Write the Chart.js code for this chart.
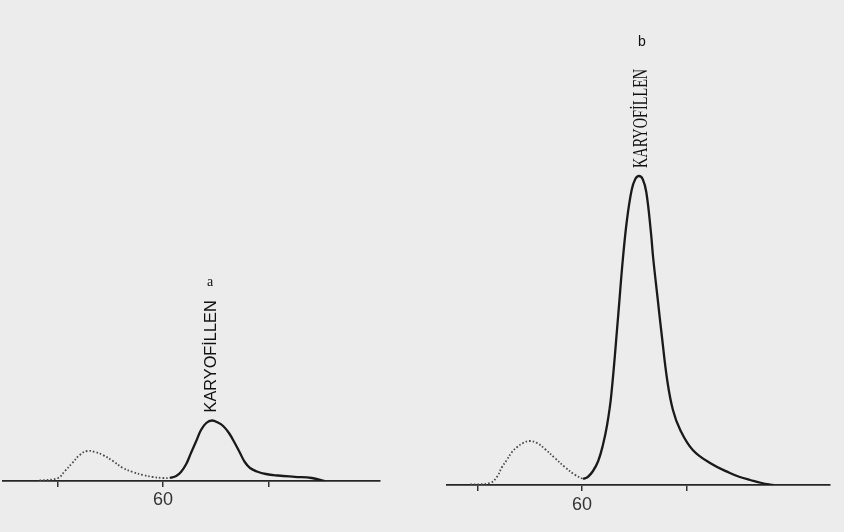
<!DOCTYPE html>
<html><head><meta charset="utf-8">
<script src="https://cdn.jsdelivr.net/npm/chart.js@4"></script>
<style>
html,body{margin:0;padding:0;background:#ececec;}
#wrap{position:relative;width:844px;height:532px;overflow:hidden;background:#ececec;}
.pane{position:absolute;top:0;height:532px;}
</style></head><body>
<div id="wrap">
<div class="pane" style="left:0;width:420px"><canvas id="ca" width="420" height="532"></canvas></div>
<div class="pane" style="left:430px;width:414px"><canvas id="cb" width="414" height="532"></canvas></div>
</div>
<script>
// ---- data (retention time in min, detector signal in chart mm) ----
const tickValues = [50, 60, 70];
const tickLabels = ['', '60', ''];

// Chromatogram a
const timeA_pre   = [48.3, 50.05, 50.7, 51.4, 52.1, 52.8, 53.55, 54.3, 55.25, 56.2, 57.15, 58.1, 59.05, 60.0, 60.65];
const signalA_pre = [0.5, 3, 10, 18, 26, 30, 29, 26, 20, 13, 9, 6, 4, 3, 3];
const timeA_main   = [60.65, 61.25, 61.7, 62.2, 62.65, 63.15, 63.6, 64.1, 64.65, 65.2, 65.7, 66.25, 66.8, 67.3, 67.75, 68.25, 68.9, 69.75, 70.9, 72.5, 74.1, 75.35];
const signalA_main = [3, 5, 9, 17, 28, 40, 51, 58, 60.5, 58.5, 55, 48, 38, 28, 19, 13, 9.5, 7, 5.5, 4.2, 3, 0];

// Chromatogram b
const timeB_pre   = [49.3, 51.2, 51.85, 52.35, 52.8, 53.3, 53.8, 54.35, 55.0, 55.7, 56.45, 57.4, 58.35, 59.35, 60.1];
const signalB_pre = [0.5, 2, 8, 18, 25, 33, 38, 42, 44, 42, 36, 27, 18, 10, 6];
const timeB_main   = [60.1, 60.55, 61.05, 61.55, 62.0, 62.4, 62.8, 63.45, 63.9, 64.3, 64.75, 65.1, 65.45, 65.8, 66.15, 66.6, 66.8, 67.2, 67.65, 68.15, 68.7, 69.4, 70.6, 72.25, 74.15, 75.1, 76.1, 77.2, 78.3];
const signalB_main = [6, 8, 14, 24, 40, 60, 90, 168, 225, 265, 295, 306, 309, 306, 293, 252, 228, 190, 148, 105, 75, 55, 35, 22, 12, 8, 5, 2, 0];

const peakName = 'KARYOFİLLEN';

function pts(t, s){ return t.map((x,i)=>({x:x, y:s[i]})); }

const peakLabel = {
  id:'peakLabel',
  afterDatasetsDraw(chart, args, o){
    const ctx = chart.ctx, xs = chart.scales.x, ys = chart.scales.y;
    const px = xs.getPixelForValue(o.time) + o.dx;
    const py = ys.getPixelForValue(o.signal);
    ctx.save();
    ctx.fillStyle = '#111';
    ctx.translate(px, py - o.gap);
    ctx.rotate(-Math.PI/2);
    ctx.scale(o.squeeze, 1);
    ctx.font = o.font;
    ctx.textAlign = 'left';
    ctx.textBaseline = 'middle';
    ctx.fillText(o.text, 0, 0);
    ctx.restore();
    ctx.save();
    ctx.fillStyle = '#111';
    ctx.font = o.letterFont;
    ctx.textAlign = 'center';
    ctx.textBaseline = 'middle';
    ctx.fillText(o.letter, px + o.letterDx, py - o.letterGap);
    ctx.restore();
  }
};

function makeChart(id, pre, main, xmin, xmax, ymax, padL, padR, axisH, tickPad, label){
  return new Chart(document.getElementById(id), {
    type:'line',
    data:{datasets:[
      {data:pre, borderColor:'#4a4a4a', borderWidth:1.8, borderDash:[1.6,2.0], pointRadius:0, tension:0.4, fill:false},
      {data:main, borderColor:'#1a1a1a', borderWidth:2.3, pointRadius:0, tension:0.4, fill:false}
    ]},
    options:{
      responsive:false, animation:false, events:[],
      layout:{padding:{left:padL, right:padR, top:0, bottom:0}},
      plugins:{legend:{display:false}, tooltip:{enabled:false}, peakLabel:label},
      scales:{
        x:{type:'linear', min:xmin, max:xmax,
           afterBuildTicks:(s)=>{ s.ticks = tickValues.map(v=>({value:v})); },
           afterFit:(s)=>{ s.height = axisH; },
           ticks:{callback:(v)=>{ const i = tickValues.indexOf(v); return i>=0 ? tickLabels[i] : ''; },
                  font:{family:'Liberation Sans, Arial', size:18}, color:'#333', padding:tickPad, maxRotation:0, autoSkip:false},
           grid:{drawOnChartArea:false, drawTicks:true, tickLength:6, color:'#333', lineWidth:1.5},
           border:{display:true, color:'#262626', width:1.8}},
        y:{display:false, min:0, max:ymax}
      }
    },
    plugins:[peakLabel]
  });
}

makeChart('ca', pts(timeA_pre, signalA_pre), pts(timeA_main, signalA_main), 44.83, 80.57, 481, 3, 40, 51, 2,
  {time:64.65, signal:60.5, dx:0, gap:8, text:peakName, squeeze:1.02, font:'16px "Liberation Sans", Arial',
   letter:'a', letterFont:'14px "Liberation Serif", serif', letterDx:-2, letterGap:138});

makeChart('cb', pts(timeB_pre, signalB_pre), pts(timeB_main, signalB_main), 47.08, 83.73, 485, 17, 14, 47, 3,
  {time:65.45, signal:309, dx:3, gap:8, text:peakName, squeeze:0.68, font:'21px "Liberation Serif", serif',
   letter:'b', letterFont:'14px "Liberation Sans", Arial', letterDx:0, letterGap:134});
</script>
</body></html>
